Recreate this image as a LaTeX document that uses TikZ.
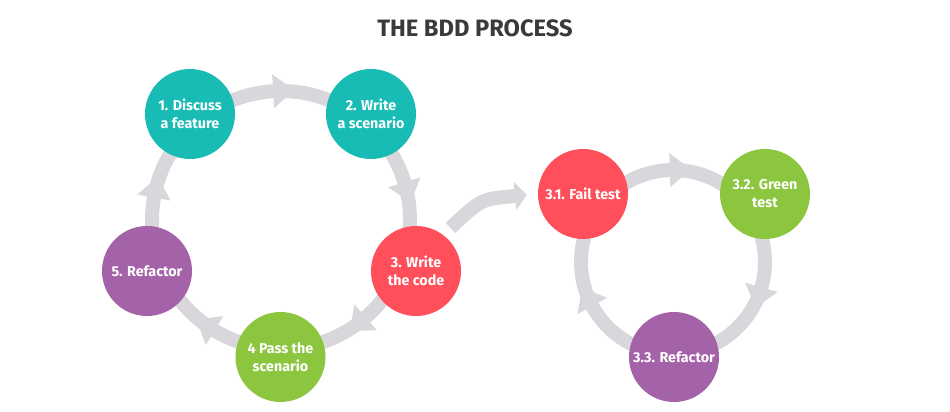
\documentclass[tikz,border=0pt]{standalone}
\usepackage{fontspec}
\setmainfont{Fira Sans}
\usetikzlibrary{arrows.meta}
\definecolor{tealc}{HTML}{19BCB5}
\definecolor{redc}{HTML}{FF4F5A}
\definecolor{greenc}{HTML}{8CC63F}
\definecolor{purplec}{HTML}{A463A9}
\definecolor{bandc}{HTML}{D9D7DB}
\definecolor{titlec}{HTML}{3A3A3A}
\begin{document}
\begin{tikzpicture}[x=1pt,y=1pt,
  stepnode/.style={circle, minimum size=90pt, inner sep=0pt, text=white, align=center,
    font=\fontsize{14.3}{18}\selectfont\bfseries},
  ringband/.style={draw=bandc, line width=14pt},
  flowarrow/.style={draw=bandc, line width=14pt, -{Triangle[width=28pt,length=12pt]}}]
\useasboundingbox (0,0) rectangle (950,412);
\node[font=\fontsize{23.7}{27}\selectfont\bfseries, text=titlec] (title) at (475,384) {THE BDD PROCESS};
\coordinate (cl) at (281,192);
\coordinate (cr) at (673,150);
\draw[ringband] (cl) circle[radius=129];
\draw[ringband] (cr) circle[radius=92];
\foreach \a in {93.5,17,-49,-121,170}
  \fill[bandc, shift={(cl)}, rotate=\a] (112,0) -- (146,0) -- (129,-21) -- cycle;
\foreach \a in {92,-16,208.6}
  \fill[bandc, shift={(cr)}, rotate=\a] (75,0) -- (109,0) -- (92,-21) -- cycle;
\node[stepnode, fill=tealc] (n1) at (190,298) {1. Discuss\\a feature};
\node[stepnode, fill=tealc] (n2) at (371,298) {2. Write\\a scenario};
\node[stepnode, fill=redc] (n3) at (416,141) {3. Write\\the code};
\node[stepnode, fill=greenc] (n4) at (280.5,55) {4 Pass the\\scenario};
\node[stepnode, fill=purplec] (n5) at (147,141) {5. Refactor};
\node[stepnode, fill=redc] (n31) at (583,218) {3.1. Fail test};
\node[stepnode, fill=greenc] (n32) at (765,218) {3.2. Green\\test};
\node[stepnode, fill=purplec] (n33) at (674,55) {3.3. Refactor};
\draw[flowarrow, shorten <=10pt, shorten >=11pt] (n3.53) .. controls (481,213) .. (n31.west);
\end{tikzpicture}
\end{document}
